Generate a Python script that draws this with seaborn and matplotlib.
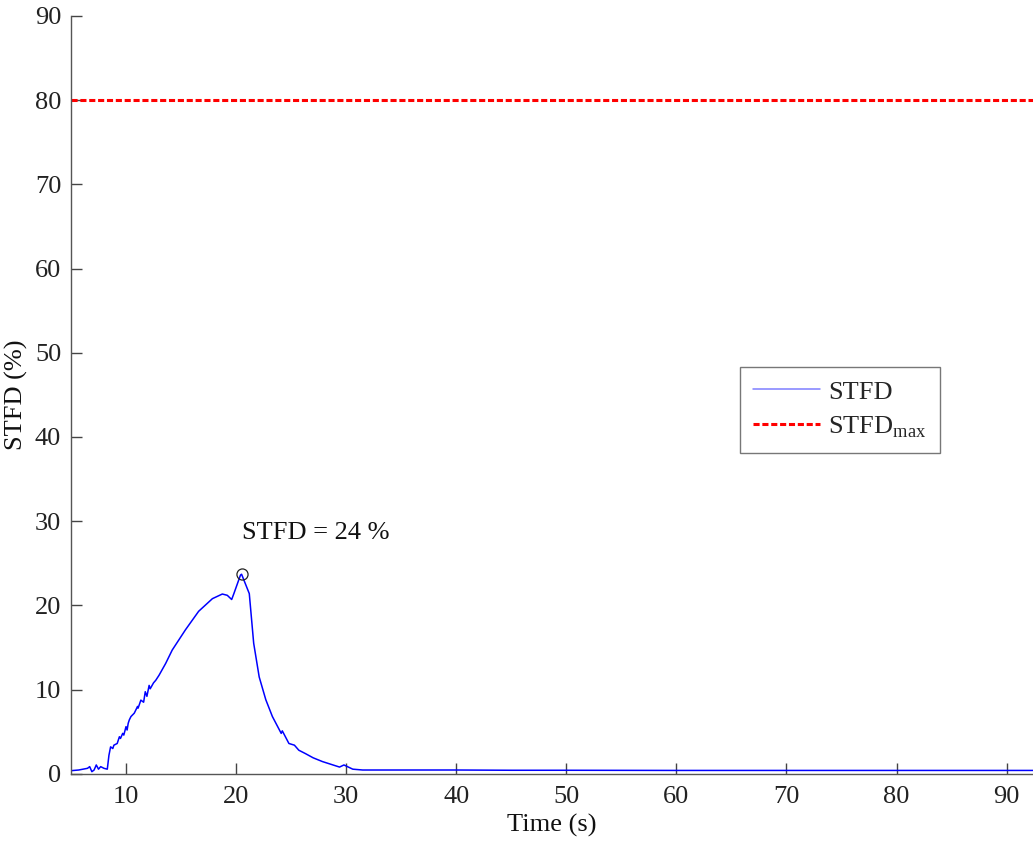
import numpy as np
import pandas as pd
import matplotlib
matplotlib.use("Agg")
import matplotlib.pyplot as plt
import seaborn as sns

# ---- data ----
time_s = [5.0, 5.7, 6.5, 6.7, 6.9, 7.1, 7.3, 7.5, 7.7, 8.0, 8.3, 8.45, 8.6, 8.8, 8.9,
          9.2, 9.4, 9.5, 9.7, 9.8, 10.0, 10.1, 10.2, 10.3, 10.45, 10.75, 11.05, 11.1,
          11.35, 11.6, 11.75, 11.9, 12.1, 12.2, 12.5, 12.7, 13.0, 13.6, 14.2, 15.4,
          16.6, 17.85, 18.75, 19.2, 19.6, 19.8, 20.4, 20.5, 21.2, 21.6, 22.1, 22.7,
          23.3, 24.1, 24.2, 24.8, 25.3, 25.7, 26.3, 27.0, 27.85, 29.4, 29.8, 30.6,
          31.5, 35.0, 40.0, 45.0, 50.0, 60.0, 70.0, 80.0, 90.0, 93.0]
stfd = [0.37, 0.45, 0.65, 0.85, 0.25, 0.45, 1.05, 0.55, 0.85, 0.65, 0.55, 2.2, 3.2,
        3.0, 3.4, 3.6, 4.4, 4.2, 4.8, 4.6, 5.6, 5.2, 6.0, 6.4, 6.8, 7.2, 8.0, 7.8,
        8.75, 8.5, 9.75, 9.2, 10.5, 10.1, 10.8, 11.1, 11.7, 13.1, 14.7, 17.1,
        19.3, 20.8, 21.35, 21.2, 20.7, 21.4, 23.6, 23.7, 21.4, 15.5, 11.5, 8.8,
        6.8, 4.8, 5.1, 3.6, 3.4, 2.8, 2.4, 1.9, 1.45, 0.8, 1.05, 0.55,
        0.45, 0.45, 0.45, 0.42, 0.42, 0.4, 0.4, 0.4, 0.4, 0.4]
stfd_max = 80
peak_time, peak_value = 20.5, 23.7
annotation = "STFD = 24 %"
x_ticks = [10, 20, 30, 40, 50, 60, 70, 80, 90]
y_ticks = [0, 10, 20, 30, 40, 50, 60, 70, 80, 90]

sns.set_theme(style="white")
plt.rcParams["font.family"] = ["Liberation Serif", "DejaVu Serif"]
plt.rcParams["mathtext.fontset"] = "custom"
plt.rcParams["mathtext.rm"] = "Liberation Serif"

FS = 19
fig = plt.figure(figsize=(10.33, 8.42), dpi=100)
ax = fig.add_axes([0.0687, 0.081, 0.9313, 0.9])

df = pd.DataFrame({"Time": time_s, "STFD": stfd})
sns.lineplot(data=df, x="Time", y="STFD", ax=ax, color="blue", lw=1.1,
             label="STFD", estimator=None, sort=False)
ax.axhline(stfd_max, color="red", lw=2.2, linestyle=(0, (2.0, 0.9)),
           label="STFD$_{\\mathrm{max}}$")
ax.plot([peak_time], [peak_value], marker="o", markersize=8, mfc="none",
        mec="#222222", mew=0.9, linestyle="none")
ax.text(27.2, 28.6, annotation, fontsize=FS, ha="center", va="center", color="#111111")

ax.set_xlim(5, 92.4)
ax.set_ylim(0, 90)
ax.set_xticks(x_ticks)
ax.set_yticks(y_ticks)
ax.tick_params(direction="in", length=8, width=1, colors="#444444",
               labelsize=FS, labelcolor="#222222", bottom=True, left=True)
ax.tick_params(axis="y", pad=7)
ax.tick_params(axis="x", pad=9)
for s in ["top", "right"]:
    ax.spines[s].set_visible(False)
for s in ["left", "bottom"]:
    ax.spines[s].set_color("#555555")
    ax.spines[s].set_linewidth(1.0)

ax.set_xlabel("Time (s)", fontsize=FS, color="#111111")
ax.set_ylabel("STFD (%)", fontsize=FS, color="#111111")
ax.xaxis.set_label_coords(0.5, -0.053)
ax.yaxis.set_label_coords(-0.045, 0.5)

leg = ax.legend(loc="upper left", bbox_to_anchor=(0.695, 0.537), fontsize=FS,
                frameon=True, fancybox=False, handlelength=2.55, borderpad=0.5,
                labelspacing=0.4, handletextpad=0.3, borderaxespad=0)
leg.get_frame().set_edgecolor("#555555")
leg.get_frame().set_linewidth(1.0)
leg.get_lines()[0].set_color("#7f7fff")

fig.savefig("out.png", dpi=100)
